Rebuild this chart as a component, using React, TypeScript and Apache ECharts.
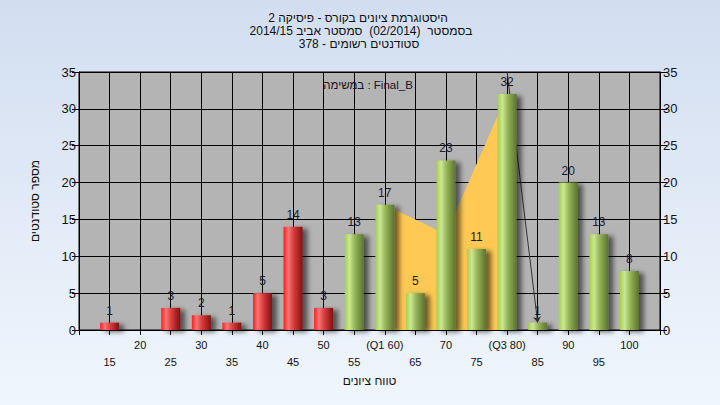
import React, { useEffect, useRef } from "react";
import * as echarts from "echarts";

// ---- data ----
const xLabels = ["15", "20", "25", "30", "35", "40", "45", "50", "55", "(Q1 60)", "65", "70", "75", "(Q3 80)", "85", "90", "95", "100"];
const counts = [1, 0, 3, 2, 1, 5, 14, 3, 13, 17, 5, 23, 11, 32, 1, 20, 13, 8];
const failCount = 8; // first 8 categories (15..50) drawn red
const areaCats = ["(Q1 60)", "70", "(Q3 80)"];
const areaVals = [17, 13, 32];
const arrowFrom: [string, number] = ["(Q3 80)", 35];
const arrowTo: [string, number] = ["85", 1];
const titleLine1 = "היסטוגרמת ציונים בקורס - פיסיקה 2";
const titleLine2 = "בסמסטר  (02/2014)  סמסטר אביב 2014/15";
const titleLine3 = "סטודנטים רשומים - 378";
const noteText = "במשימה : Final_B";
const xName = "טווח ציונים";
const yName = "מספר סטודנטים";

const FONT = "'Liberation Sans', 'DejaVu Sans', Arial, sans-serif";

export default function App() {
  const ref = useRef<HTMLDivElement>(null);
  useEffect(() => {
    if (!ref.current) return;
    const chart = echarts.init(ref.current, undefined, { renderer: "svg" });
    const axisData = [" ", ...xLabels, "  "];
    const redGrad = new echarts.graphic.LinearGradient(0, 0, 1, 0, [
      { offset: 0, color: "#ff1c1c" },
      { offset: 0.25, color: "#f77676" },
      { offset: 0.55, color: "#d83a3a" },
      { offset: 1, color: "#7e1212" },
    ]);
    const greenGrad = new echarts.graphic.LinearGradient(0, 0, 1, 0, [
      { offset: 0, color: "#a6cf4a" },
      { offset: 0.25, color: "#cbe794" },
      { offset: 0.55, color: "#93b256" },
      { offset: 1, color: "#5b7430" },
    ]);
    const barData: any[] = [null];
    counts.forEach((v, i) => {
      barData.push({
        value: v,
        itemStyle: { color: i < failCount ? redGrad : greenGrad },
      });
    });
    barData.push(null);
    const areaData: any[] = axisData.map((c) => {
      const k = areaCats.indexOf(c);
      return k >= 0 ? areaVals[k] : null;
    });
    const tStyle = (text: string, align: string) => ({
      text,
      fontSize: 12,
      fill: "#111",
      align,
      verticalAlign: "middle",
      fontFamily: FONT,
    });

    chart.setOption({
      animation: false,
      backgroundColor: new echarts.graphic.LinearGradient(0, 0, 0, 1, [
        { offset: 0, color: "#d2def0" },
        { offset: 1, color: "#f0f6fd" },
      ]),
      textStyle: { fontFamily: FONT },
      graphic: [
        { type: "text", x: 358, y: 18, style: tStyle(titleLine1, "center"), z: 10 },
        { type: "text", x: 361, y: 31, style: tStyle(titleLine2, "center"), z: 10 },
        { type: "text", x: 359, y: 44, style: tStyle(titleLine3, "center"), z: 10 },
        {
          type: "text",
          x: 368,
          y: 85,
          style: { text: noteText, fontSize: 11.5, fill: "#1c1024", align: "center", verticalAlign: "middle", fontFamily: FONT },
          z: 10,
        },
      ],
      grid: {
        left: 79,
        right: 60,
        top: 72,
        bottom: 75,
        show: true,
        backgroundColor: "#b4b4b4",
        borderColor: "#000",
        borderWidth: 1,
      },
      xAxis: {
        type: "category",
        data: axisData,
        boundaryGap: false,
        name: xName,
        nameLocation: "middle",
        nameGap: 45,
        nameTextStyle: { fontSize: 12, color: "#111", fontFamily: FONT },
        axisLine: { lineStyle: { color: "#000", width: 1 } },
        axisTick: { show: true, interval: 0, length: 5, lineStyle: { color: "#000" } },
        axisLabel: {
          interval: 0,
          margin: 6,
          fontSize: 11,
          color: "#111",
          lineHeight: 17,
          fontFamily: FONT,
          formatter: (v: string, i: number) => (v.trim() === "" ? "" : i % 2 === 1 ? "\n" + v : v),
        },
        splitLine: { show: true, interval: 0, lineStyle: { color: "#000", width: 1 } },
      },
      yAxis: [
        {
          type: "value",
          min: 0,
          max: 35,
          interval: 5,
          name: yName,
          nameLocation: "middle",
          nameRotate: 90,
          nameGap: 38,
          nameTextStyle: { fontSize: 12, color: "#111", fontFamily: FONT },
          axisLine: { show: true, lineStyle: { color: "#000" } },
          axisTick: { show: true, length: 7, lineStyle: { color: "#000" } },
          axisLabel: { fontSize: 13, color: "#111", margin: 3, fontFamily: FONT },
          splitLine: { show: true, lineStyle: { color: "#000", width: 1 } },
        },
        {
          type: "value",
          position: "right",
          min: 0,
          max: 35,
          interval: 5,
          axisLine: { show: true, lineStyle: { color: "#000" } },
          axisTick: { show: true, length: 7, lineStyle: { color: "#000" } },
          axisLabel: { fontSize: 13, color: "#111", margin: 3, fontFamily: FONT },
          splitLine: { show: false },
        },
      ],
      series: [
        {
          type: "line",
          data: areaData,
          connectNulls: true,
          symbol: "none",
          lineStyle: { width: 0, color: "#ffc954" },
          areaStyle: { color: "#ffc954", opacity: 1 },
          z: 1,
          silent: true,
        },
        {
          type: "line",
          data: [],
          z: 1,
          markLine: {
            silent: true,
            animation: false,
            z: 1,
            label: { show: false },
            lineStyle: { color: "#333", width: 1, type: "solid" },
            symbolSize: 6,
            data: [
              [
                { coord: arrowFrom, symbol: "none" },
                { coord: arrowTo, symbol: "arrow" },
              ],
            ],
          },
        },
        {
          type: "bar",
          data: barData,
          barWidth: 19,
          z: 3,
          itemStyle: {
            shadowColor: "rgba(0,0,0,0.55)",
            shadowBlur: 5,
            shadowOffsetX: 5,
            shadowOffsetY: 2,
          },
          label: {
            show: true,
            position: "top",
            distance: 6,
            fontSize: 12,
            color: "#1a1a2c",
            fontFamily: FONT,
            formatter: (p: any) => (p.value ? String(p.value) : ""),
          },
        },
      ],
    });
    return () => chart.dispose();
  }, []);
  return <div ref={ref} style={{ position: "fixed", left: 0, top: 0, width: 720, height: 405 }} />;
}
